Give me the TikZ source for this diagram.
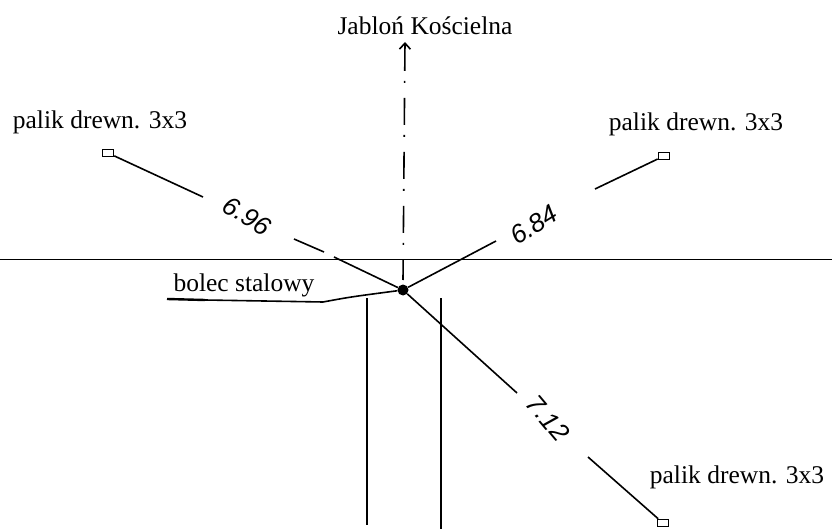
\documentclass[tikz,border=0pt]{standalone}
\usepackage{fontspec}
\setmainfont{Liberation Serif}
\newfontfamily\handfont{Liberation Sans}
\usetikzlibrary{positioning}
\usetikzlibrary{arrows.meta}
\tikzset{
	opis/.style={inner sep=0pt,font=\fontsize{25.5}{28}\selectfont},
	wymiar/.style={inner sep=0pt,font=\handfont\itshape\fontsize{26}{28}\selectfont},
	palik/.style={draw,line width=1.6pt,inner sep=0pt,minimum width=11pt,minimum height=7pt},
	linia/.style={line width=1.6pt}
}
\begin{document}
\begin{tikzpicture}[x=1pt,y=-1pt]
	\useasboundingbox (0,0) rectangle (832,529);

	\node[opis] (T0) at (425,26) {Jabloń Kościelna};
	\node[opis] (T1) at (100,122) {palik drewn. 3x3};
	\node[opis] (T2) at (696,124) {palik drewn. 3x3};
	\node[opis] (T3) at (737,477) {palik drewn. 3x3};
	\node[opis] (T4) at (244,285) {bolec stalowy};

	\node[wymiar,rotate=-32] (W1) at (247,216) {6.96};
	\node[wymiar,rotate=32] (W2) at (534,225) {6.84};
	\node[wymiar,rotate=-50] (W3) at (548,418) {7.12};

	\node[circle,fill,inner sep=0pt,minimum size=11pt] (S) at (403,290) {};
	\node[palik] (P1) at (108,153) {};
	\node[palik] (P2) at (664,156) {};
	\node[palik] (P3) at (663,523) {};

	\coordinate (A1) at (203,197);
	\coordinate (A2) at (294,239);
	\coordinate (A3) at (324,252);
	\coordinate (A4) at (334,257);
	\coordinate (B1) at (595,189);
	\coordinate (B2) at (496,241);
	\coordinate (C1) at (517,393);
	\coordinate (C2) at (588,457);

	\draw[linia] (P1) -- (A1);
	\draw[linia] (A2) -- (A3);
	\draw[linia] (A4) -- (S);
	\draw[linia] (P2) -- (B1);
	\draw[linia] (B2) -- (S);
	\draw[linia] (S) -- (C1);
	\draw[linia] (C2) -- (P3);

	\coordinate (H1) at (0,260);
	\coordinate (H2) at (832,260);
	\draw[line width=1pt] (H1) -- (H2);

	\coordinate (N1) at (405,42);
	\coordinate (N2) at (403,280);
	\draw[linia,{Straight Barb[length=6pt,width=11pt]}-,dash pattern=on 27pt off 10pt on 2pt off 15pt] (N1) -- (N2);

	\coordinate (R1) at (367,298);
	\coordinate (R2) at (367,525);
	\coordinate (R3) at (441,298);
	\coordinate (R4) at (441,529);
	\draw[linia] (R1) -- (R2);
	\draw[linia] (R3) -- (R4);

	\coordinate (L1) at (167,299);
	\coordinate (L2) at (205,300);
	\coordinate (L3) at (323,302);
	\coordinate (L4) at (350,297);
	\draw[line width=2.4pt] (L1) -- (L2);
	\draw[linia] (L2) -- (L3) .. controls (L4) and (L4) .. (S);

\end{tikzpicture}
\end{document}
